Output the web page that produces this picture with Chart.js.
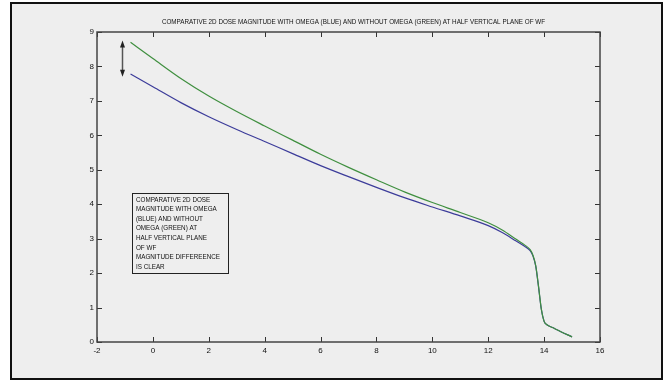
<!DOCTYPE html>
<html>
<head>
<meta charset="utf-8">
<script src="https://cdn.jsdelivr.net/npm/chart.js@4.4.0/dist/chart.umd.min.js"></script>
<style>
  html, body { margin: 0; padding: 0; background: #ffffff; }
  #wrap { position: relative; width: 665px; height: 381px; }
  canvas { display: block; }
</style>
</head>
<body>
<div id="wrap"><canvas id="c" width="665" height="381"></canvas></div>
<script>
// Position along the half vertical plane of WF
const positions = [-0.8, 0, 1, 2, 3, 4, 5, 6, 7, 8, 9, 10, 11, 12, 12.5, 13, 13.3, 13.5, 13.6, 13.7, 13.8, 13.9, 14.0, 14.1, 14.3, 14.6, 15.0];
// 2D dose magnitude with omega (blue)
const withOmega = [7.78, 7.41, 6.95, 6.54, 6.17, 5.82, 5.47, 5.12, 4.80, 4.49, 4.19, 3.92, 3.66, 3.38, 3.18, 2.93, 2.78, 2.65, 2.50, 2.20, 1.60, 0.95, 0.60, 0.50, 0.42, 0.30, 0.15];
// 2D dose magnitude without omega (green)
const withoutOmega = [8.70, 8.23, 7.65, 7.14, 6.69, 6.27, 5.86, 5.45, 5.07, 4.71, 4.36, 4.05, 3.76, 3.46, 3.25, 2.98, 2.82, 2.68, 2.52, 2.22, 1.62, 0.96, 0.60, 0.50, 0.42, 0.30, 0.15];
const xTicks = [-2, 0, 2, 4, 6, 8, 10, 12, 14, 16];
const yTicks = [0, 1, 2, 3, 4, 5, 6, 7, 8, 9];

const titleText = 'COMPARATIVE 2D DOSE MAGNITUDE WITH OMEGA (BLUE) AND WITHOUT OMEGA (GREEN) AT HALF VERTICAL PLANE OF WF';
const noteLines = ['COMPARATIVE 2D DOSE', 'MAGNITUDE WITH OMEGA', '(BLUE) AND WITHOUT', 'OMEGA (GREEN) AT', 'HALF VERTICAL PLANE', 'OF WF', 'MAGNITUDE DIFFEREENCE', 'IS CLEAR'];
// note box corners and the double arrow, in axis units
const noteBox = { x0: -0.75, x1: 2.69, y0: 4.33, y1: 2.0 };
const gapArrow = { x: -1.1, yTop: 8.75, yBottom: 7.70 };

const FONT = "'Liberation Sans', Arial, sans-serif";
const SQUEEZE = 0.84; // condensed lettering for the title and the note

const toPoints = (ys) => positions.map((x, i) => ({ x, y: ys[i] }));

function squeezedText(ctx, text, x, y, align) {
  ctx.save();
  ctx.translate(x, y);
  ctx.scale(SQUEEZE, 1);
  ctx.textAlign = align;
  ctx.fillText(text, 0, 0);
  ctx.restore();
}

// page frame and light-grey figure background
const framePlugin = {
  id: 'frame',
  beforeDraw(chart) {
    const ctx = chart.ctx;
    ctx.save();
    ctx.fillStyle = '#ffffff';
    ctx.fillRect(0, 0, chart.width, chart.height);
    ctx.fillStyle = '#eeeeee';
    ctx.fillRect(11, 3, 651, 376);
    ctx.strokeStyle = '#111111';
    ctx.lineWidth = 2;
    ctx.strokeRect(11, 3, 651, 376);
    ctx.restore();
  }
};

// boxed axes with inward ticks on all four sides, title, note and arrow
const axesBoxPlugin = {
  id: 'axesBox',
  afterDatasetsDraw(chart) {
    const { ctx, chartArea: a, scales } = chart;
    ctx.save();
    ctx.strokeStyle = '#333333';
    ctx.lineWidth = 1;
    const len = 5;
    ctx.beginPath();
    xTicks.forEach(v => {
      const px = Math.round(scales.x.getPixelForValue(v)) + 0.5;
      ctx.moveTo(px, a.bottom); ctx.lineTo(px, a.bottom - len);
      ctx.moveTo(px, a.top); ctx.lineTo(px, a.top + len);
    });
    yTicks.forEach(v => {
      const py = Math.round(scales.y.getPixelForValue(v)) + 0.5;
      ctx.moveTo(a.left, py); ctx.lineTo(a.left + len, py);
      ctx.moveTo(a.right, py); ctx.lineTo(a.right - len, py);
    });
    ctx.stroke();
    ctx.lineWidth = 1.5;
    ctx.strokeStyle = '#444444';
    ctx.strokeRect(a.left, a.top, a.right - a.left, a.bottom - a.top);

    // title
    ctx.fillStyle = '#111111';
    ctx.font = '7.5px ' + FONT;
    ctx.textBaseline = 'middle';
    squeezedText(ctx, titleText, (a.left + a.right) / 2 + 5, a.top - 10, 'center');

    // note box
    const bx0 = scales.x.getPixelForValue(noteBox.x0), bx1 = scales.x.getPixelForValue(noteBox.x1);
    const by0 = scales.y.getPixelForValue(noteBox.y0), by1 = scales.y.getPixelForValue(noteBox.y1);
    ctx.lineWidth = 1;
    ctx.strokeStyle = '#222222';
    ctx.strokeRect(Math.round(bx0) + 0.5, Math.round(by0) + 0.5, Math.round(bx1 - bx0), Math.round(by1 - by0));
    ctx.font = '7.5px ' + FONT;
    ctx.textBaseline = 'top';
    noteLines.forEach((t, i) => squeezedText(ctx, t, bx0 + 4, by0 + 3 + i * 9.6, 'left'));

    // double arrow between the two curves
    const ax = Math.round(scales.x.getPixelForValue(gapArrow.x)) + 0.5;
    const ay0 = scales.y.getPixelForValue(gapArrow.yTop);
    const ay1 = scales.y.getPixelForValue(gapArrow.yBottom);
    ctx.strokeStyle = '#555555';
    ctx.fillStyle = '#222222';
    ctx.lineWidth = 1.5;
    ctx.beginPath();
    ctx.moveTo(ax, ay0 + 5); ctx.lineTo(ax, ay1 - 5);
    ctx.stroke();
    ctx.beginPath();
    ctx.moveTo(ax, ay0); ctx.lineTo(ax - 2.5, ay0 + 7); ctx.lineTo(ax + 2.5, ay0 + 7); ctx.closePath();
    ctx.moveTo(ax, ay1); ctx.lineTo(ax - 2.5, ay1 - 7); ctx.lineTo(ax + 2.5, ay1 - 7); ctx.closePath();
    ctx.fill();
    ctx.restore();
  }
};

new Chart(document.getElementById('c'), {
  type: 'line',
  data: {
    datasets: [
      {
        label: 'Without omega',
        data: toPoints(withoutOmega),
        borderColor: '#3f8f3f',
        borderWidth: 1.2,
        pointRadius: 0,
        cubicInterpolationMode: 'monotone',
        fill: false
      },
      {
        label: 'With omega',
        data: toPoints(withOmega),
        borderColor: '#3c3c9a',
        borderWidth: 1.2,
        pointRadius: 0,
        cubicInterpolationMode: 'monotone',
        fill: false
      }
    ]
  },
  options: {
    responsive: false,
    animation: false,
    layout: { padding: { left: 0, right: 65, top: 32, bottom: 0 } },
    plugins: {
      legend: { display: false },
      tooltip: { enabled: false },
      title: { display: false }
    },
    scales: {
      x: {
        type: 'linear',
        min: -2, max: 16,
        afterFit(s) { s.height = 39; },
        afterBuildTicks(s) { s.ticks = xTicks.map(v => ({ value: v })); },
        grid: { display: false, drawTicks: false },
        border: { display: false },
        ticks: { color: '#111111', padding: 4, maxRotation: 0, autoSkip: false, font: { family: FONT, size: 8 } }
      },
      y: {
        type: 'linear',
        min: 0, max: 9,
        afterFit(s) { s.width = 97; },
        afterBuildTicks(s) { s.ticks = yTicks.map(v => ({ value: v })); },
        grid: { display: false, drawTicks: false },
        border: { display: false },
        ticks: { color: '#111111', padding: 3, autoSkip: false, font: { family: FONT, size: 8 } }
      }
    }
  },
  plugins: [framePlugin, axesBoxPlugin]
});
</script>
</body>
</html>
